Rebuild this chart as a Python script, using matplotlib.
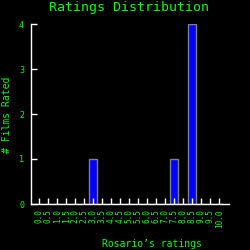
import matplotlib
matplotlib.use("Agg")
import matplotlib.pyplot as plt
import numpy as np

# rating bins and counts
ratings = ["0.0", "0.5", "1.0", "1.5", "2.0", "2.5", "3.0", "3.5", "4.0", "4.5",
           "5.0", "5.5", "6.0", "6.5", "7.0", "7.5", "8.0", "8.5", "9.0", "9.5", "10.0"]
counts = [0, 0, 0, 0, 0, 0, 1, 0, 0, 0, 0, 0, 0, 0, 0, 1, 0, 4, 0, 0, 0]
yticks = [0, 1, 2, 3, 4]

green = "#00ff00"
plt.rcParams["font.family"] = ["DejaVu Sans Mono"]

fig = plt.figure(figsize=(2.5, 2.5), dpi=100, facecolor="black")
ax = fig.add_axes([31 / 250, 46 / 250, 198 / 250, 180 / 250], facecolor="black")

x = np.arange(len(ratings))
ax.bar(x, counts, width=0.9, color="#0000ff", edgecolor="#808080", linewidth=1)

ax.set_xlim(-0.92, 21.08)
ax.set_ylim(0, 4)
ax.set_xticks(x)
ax.set_xticklabels(ratings, rotation=90, fontsize=5.6, color=green)
ax.set_yticks(yticks)
ax.set_yticklabels([str(v) for v in yticks], fontsize=6, color=green)
ax.tick_params(axis="x", direction="in", length=4, width=1, color="white", pad=3.6)
ax.tick_params(axis="y", direction="in", length=4, width=1, color="white", pad=5)

for s in ["top", "right"]:
    ax.spines[s].set_visible(False)
for s in ["left", "bottom"]:
    ax.spines[s].set_color("white")
    ax.spines[s].set_linewidth(1)

fig.text(129 / 250, 1 - 8 / 250, "Ratings Distribution", color=green,
         fontsize=9.6, ha="center", va="center")
fig.text(7.5 / 250, 1 - 115 / 250, "# Films Rated", color=green,
         fontsize=7, ha="center", va="center", rotation=90)
fig.text(152 / 250, 1 - 244 / 250, "Rosario\u2019s ratings", color=green,
         fontsize=7, ha="center", va="center")

fig.savefig("out.png", dpi=100, facecolor="black")
